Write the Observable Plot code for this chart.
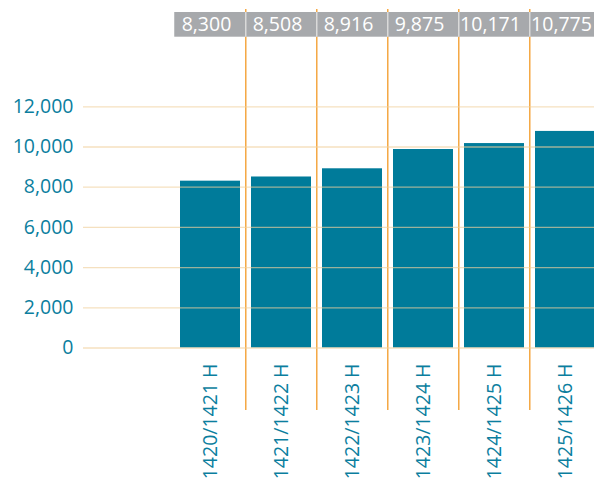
<!DOCTYPE html>
<html>
<head>
<meta charset="utf-8">
<script src="https://cdn.jsdelivr.net/npm/d3@7"></script>
<script src="https://cdn.jsdelivr.net/npm/@observablehq/plot@0.6"></script>
<style>
  html, body { margin: 0; padding: 0; background: #fff; }
  svg { display: block; }
</style>
</head>
<body>
<div id="chart"></div>
<script>
const categories = ["1420/1421 H", "1421/1422 H", "1422/1423 H", "1423/1424 H", "1424/1425 H", "1425/1426 H"];
const values = [8300, 8508, 8916, 9875, 10171, 10775];
const yTicks = [0, 2000, 4000, 6000, 8000, 10000, 12000];

const data = categories.map((c, i) => ({cat: c, value: values[i]}));
const fmt = d3.format(",");
const teal = "#0b7e9e";
const font = "'Open Sans', sans-serif";

const chart = Plot.plot({
  width: 594,
  height: 482,
  marginTop: 9,
  marginBottom: 72,
  marginLeft: 83,
  marginRight: 0,
  style: {fontFamily: font, background: "#fff"},
  x: {domain: categories, range: [172.7, 601.0], paddingInner: 0.16, paddingOuter: 0.08, axis: null, label: null},
  y: {domain: [0, 12000], range: [347.5, 106.3], axis: null, label: null},
  marks: [
    // orange separators between columns
    Plot.ruleX(categories.slice(1), {x: d => d, dx: -35.7, stroke: "#f39a26", strokeWidth: 1.3}),
    // bars
    Plot.barY(data, {x: "cat", y: "value", fill: "#007b9a"}),
    // gridlines (drawn over bars, semi transparent)
    Plot.gridY(yTicks, {stroke: "#efcf9c", strokeOpacity: 0.65, strokeWidth: 1.3}),
    // y axis labels
    Plot.axisY(yTicks, {tickFormat: d => fmt(d), label: null, tickSize: 0, tickPadding: 10, fill: teal, fontSize: 19.5, fontFamily: font}),
    // top gray boxes
    Plot.cell(categories, {x: d => d, fill: "#a7a9ac", insetTop: 3, insetBottom: 373.3, insetLeft: -5.75, insetRight: -5.75}),
    // light dividers within the gray box
    Plot.ruleX(categories.slice(1), {x: d => d, dx: -35.7, stroke: "#e6e6e6", strokeWidth: 1.2, insetTop: 3, insetBottom: 373.3}),
    // top value labels
    Plot.text(data, {x: "cat", text: d => fmt(d.value), frameAnchor: "top", lineAnchor: "middle", dy: 15.5, dx: -4, fill: "#ffffff", fontSize: 19.5, fontFamily: font}),
    // x labels rotated
    Plot.text(data, {x: "cat", y: d => 0, text: "cat", rotate: -90, textAnchor: "end", dy: 15.5, fill: teal, fontSize: 19.5, fontFamily: font})
  ]
});
document.getElementById("chart").appendChild(chart);
</script>
</body>
</html>
